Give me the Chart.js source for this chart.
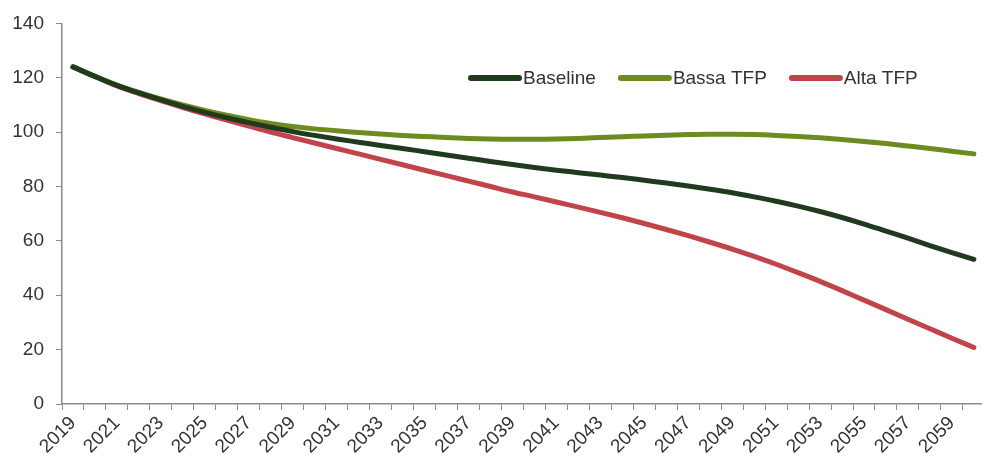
<!DOCTYPE html>
<html>
<head>
<meta charset="utf-8">
<script src="https://cdn.jsdelivr.net/npm/chart.js@4"></script>
<style>
	html, body { margin: 0; padding: 0; background: #fff; overflow: hidden; }
	.wrap { position: relative; width: 992px; height: 464px; }
</style>
</head>
<body>
<div class="wrap"><canvas class="line-chart"></canvas></div>
<script>
const years = [];
for (let y = 2019; y <= 2060; y++) years.push(String(y));

const seriesNames = ["Baseline", "Bassa TFP", "Alta TFP"];

const baseline = [
	124, 120.5, 117.2, 114.4, 111.9, 109.5, 107.3, 105.3, 103.5, 101.8,
	100.2, 98.8, 97.5, 96.3, 95.1, 94, 92.8, 91.6, 90.4, 89.2,
	88.1, 87, 86, 85.1, 84.2, 83.3, 82.3, 81.3, 80.2, 79,
	77.7, 76.2, 74.6, 72.8, 70.8, 68.6, 66.2, 63.6, 61, 58.3,
	55.7, 53.2,
];

const bassaTfp = [
	124, 120.5, 117.3, 114.6, 112.2, 110, 108, 106.2, 104.6, 103.2,
	102.1, 101.2, 100.5, 99.9, 99.3, 98.8, 98.4, 98, 97.7, 97.5,
	97.4, 97.4, 97.5, 97.7, 98, 98.3, 98.6, 98.9, 99.1, 99.2,
	99.2, 99.1, 98.8, 98.4, 97.9, 97.3, 96.6, 95.8, 94.9, 94,
	93, 92,
];

const altaTfp = [
	124, 120.5, 117, 114.2, 111.6, 109, 106.7, 104.4, 102.2, 100,
	98, 96, 94, 92, 90, 88, 86, 84, 82, 80,
	78, 76.2, 74.3, 72.4, 70.5, 68.5, 66.4, 64.2, 61.9, 59.5,
	57, 54.3, 51.4, 48.3, 45.1, 41.7, 38.2, 34.7, 31.2, 27.7,
	24.2, 20.8,
];

const yTicks = [0, 20, 40, 60, 80, 100, 120, 140];

const lineColors = ["#1f3a1c", "#6d8b1f", "#c0444a"];
const textColor = "#333333";
const axisColor = "#8a8a8a";
const font = "'Liberation Sans', Arial, sans-serif";

// legend drawn inside the plot, top right
const insideLegend = {
	id: "insideLegend",
	afterDraw(chart) {
		const ctx = chart.ctx;
		const y = 78;
		let x = 468;
		ctx.save();
		ctx.font = "19px " + font;
		ctx.textBaseline = "middle";
		chart.data.datasets.forEach((ds) => {
			ctx.strokeStyle = ds.borderColor;
			ctx.lineWidth = 6;
			ctx.lineCap = "round";
			ctx.beginPath();
			ctx.moveTo(x + 3, y);
			ctx.lineTo(x + 51, y);
			ctx.stroke();
			ctx.fillStyle = textColor;
			ctx.fillText(ds.label, x + 55, y + 1);
			x += 55 + ctx.measureText(ds.label).width + 22;
		});
		ctx.restore();
	},
};

const renderChart = () => {
	const lineChart = document.querySelector(".line-chart");

	new Chart(lineChart, {
		type: "line",
		data: {
			labels: years,
			datasets: [baseline, bassaTfp, altaTfp].map((values, i) => ({
				label: seriesNames[i],
				data: values,
				borderColor: lineColors[i],
				backgroundColor: lineColors[i],
				borderWidth: 5,
				borderCapStyle: "round",
				pointRadius: 0,
				cubicInterpolationMode: "monotone",
				fill: false,
			})),
		},
		options: {
			responsive: true,
			maintainAspectRatio: false,
			animation: false,
			layout: { padding: { top: 22, right: 1, left: 0, bottom: 0 } },
			plugins: {
				legend: { display: false },
				tooltip: { enabled: false },
			},
			scales: {
				x: {
					offset: true,
					grid: {
						offset: true,
						drawOnChartArea: false,
						drawTicks: true,
						tickLength: 6,
						color: axisColor,
					},
					border: { display: true, color: axisColor, width: 1.5 },
					ticks: {
						autoSkip: false,
						maxRotation: 45,
						minRotation: 45,
						padding: 2,
						color: textColor,
						font: { family: font, size: 19 },
						callback: function (value, index) {
							return index % 2 === 0 ? years[index] : "";
						},
					},
					afterFit: (scale) => {
						scale.height = 60;
					},
				},
				y: {
					min: 0,
					max: 140,
					afterBuildTicks: (scale) => {
						scale.ticks = yTicks.map((v) => ({ value: v }));
					},
					grid: {
						drawOnChartArea: false,
						drawTicks: true,
						tickLength: 6,
						color: axisColor,
					},
					border: { display: true, color: axisColor, width: 1.5 },
					ticks: {
						padding: 12,
						color: textColor,
						font: { family: font, size: 19 },
					},
					afterFit: (scale) => {
						scale.width = 62;
					},
				},
			},
		},
		plugins: [insideLegend],
	});
};

renderChart();
</script>
</body>
</html>
